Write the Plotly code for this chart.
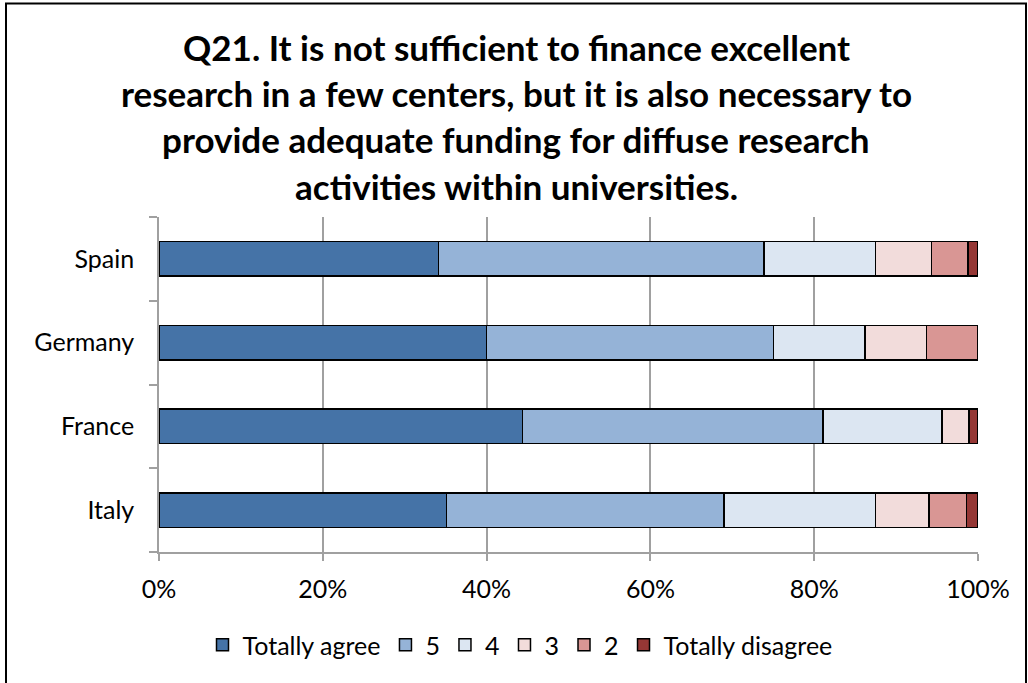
import plotly.graph_objects as go

# Survey answers (percent of respondents) per country
countries = ["Italy", "France", "Germany", "Spain"]
series_names = ["Totally agree", "5", "4", "3", "2", "Totally disagree"]
totally_agree = [35.1, 44.4, 40.0, 34.1]
score_5 = [33.9, 36.7, 35.0, 39.8]
score_4 = [18.5, 14.5, 11.2, 13.6]
score_3 = [6.5, 3.3, 7.5, 6.8]
score_2 = [4.6, 0.0, 6.3, 4.5]
totally_disagree = [1.4, 1.1, 0.0, 1.2]
x_ticks = [0, 20, 40, 60, 80, 100]
x_tick_labels = [f"{v}%" for v in x_ticks]

title_lines = [
    "Q21. It is not sufficient to finance excellent",
    "research in a few centers, but it is also necessary to",
    "provide adequate funding for diffuse research",
    "activities within universities.",
]

colors = ["#4573A7", "#95B3D7", "#DCE6F2", "#F2DCDB", "#D99694", "#953735"]
values = [totally_agree, score_5, score_4, score_3, score_2, totally_disagree]

W, H = 1028, 683
ML, MR, MT, MB = 159, 50, 217, 131
PW, PH = W - ML - MR, H - MT - MB


def px_to_paper_x(px):
    return (px - ML) / PW


def px_to_paper_y(py):
    return (H - MB - py) / PH


FONT = "Lato"

fig = go.Figure()
for name, vals, col in zip(series_names, values, colors):
    fig.add_trace(go.Bar(
        y=countries, x=vals, name=name, orientation="h",
        marker=dict(color=col, line=dict(color="#000000", width=1.5)),
        hoverinfo="skip",
    ))

annotations = []
for i, line in enumerate(title_lines):
    annotations.append(dict(
        text=f"<b>{line}</b>", xref="paper", yref="paper",
        x=px_to_paper_x(516), y=px_to_paper_y(47 + i * 46.2),
        xanchor="center", yanchor="middle", showarrow=False,
        font=dict(family=FONT, size=35, color="#000000"),
    ))

shapes = [dict(
    type="rect", xref="paper", yref="paper",
    x0=px_to_paper_x(6), x1=px_to_paper_x(1026),
    y0=px_to_paper_y(700), y1=px_to_paper_y(3.5),
    line=dict(color="#000000", width=2), fillcolor="rgba(0,0,0,0)",
    layer="below",
)]

fig.update_layout(
    width=W, height=H,
    margin=dict(l=ML, r=MR, t=MT, b=MB, pad=0),
    paper_bgcolor="#FFFFFF", plot_bgcolor="#FFFFFF",
    barmode="stack", bargap=0.59,
    font=dict(family=FONT, size=25, color="#000000"),
    showlegend=True,
    legend=dict(
        orientation="h", x=px_to_paper_x(520), y=px_to_paper_y(645),
        xanchor="center", yanchor="middle",
        font=dict(family=FONT, size=25, color="#000000"),
        traceorder="normal", itemwidth=30,
    ),
    annotations=annotations,
    shapes=shapes,
    xaxis=dict(
        range=[0, 100], tickvals=x_ticks, ticktext=x_tick_labels,
        showgrid=True, gridcolor="#A0A0A0", gridwidth=1.5,
        showline=True, linecolor="#A0A0A0", linewidth=1.5,
        ticks="outside", ticklen=7, tickcolor="#A0A0A0", tickwidth=1.5,
        zeroline=False, fixedrange=True, ticklabelstandoff=7,
        tickfont=dict(family=FONT, size=25, color="#000000"),
    ),
    yaxis=dict(
        type="category", categoryorder="array", categoryarray=countries,
        showline=True, linecolor="#A0A0A0", linewidth=1.5,
        ticks="outside", ticklen=8, tickcolor="#A0A0A0", tickwidth=1.5,
        tickson="boundaries", showgrid=False, zeroline=False,
        ticklabelstandoff=18, fixedrange=True,
        tickfont=dict(family=FONT, size=25, color="#000000"),
    ),
)

fig.write_html("out.html", config={"displayModeBar": False})
